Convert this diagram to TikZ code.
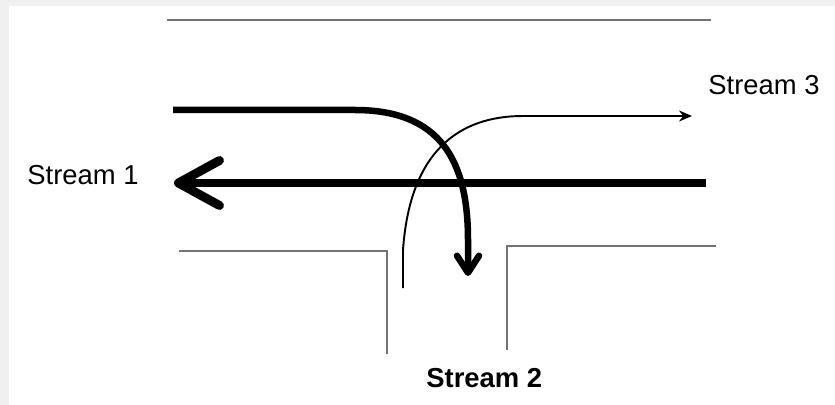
\documentclass[tikz,border=0pt]{standalone}
\usepackage{fontspec}
\setmainfont{Liberation Sans}
\usepackage{tikz}
\usetikzlibrary{arrows.meta,positioning}
\tikzset{%
	road/.style     = {draw=black!55, line width=0.85pt},
	streamlabel/.style = {inner sep=0pt, anchor=base west, font=\fontsize{15.6}{18}\selectfont},
	mainstream/.style  = {line width=5.1pt, -{Straight Barb[length=0.82cm,width=0.9cm,round]}},
	turnstream/.style  = {line width=3.7pt, -{Straight Barb[length=0.34cm,width=0.44cm,round]}},
	minorstream/.style = {line width=1.1pt, -{Stealth[length=0.26cm,width=0.22cm]}},
}

\begin{document}
\begin{tikzpicture}[x=0.02cm,y=-0.02cm]
		\useasboundingbox (0,0) rectangle (835,405);
		\fill[black!6] (0,0) rectangle (835,405);
		\fill[white] (9,6) rectangle (835,405);
		
		% road edges
		\draw[road] (167,20) -- (711,20);
		\draw[road] (179,251) -- (387,251) -- (387,354);
		\draw[road] (716,246) -- (507,246) -- (507,350);
		
		% stream end points
		\coordinate (s1start) at (706,183);
		\coordinate (s1end) at (174,183);
		\coordinate (s2start) at (173,110);
		\coordinate (s2end) at (468,276);
		\coordinate (s3start) at (403,288);
		\coordinate (s3end) at (692,116);
		
		\draw[mainstream] (s1start) -- (s1end);
		\draw[turnstream] (s2start) -- (355,110) ..controls (440,110) and (468,160) .. (468,240) -- (s2end);
		\draw[minorstream] (s3start) -- (403,250) ..controls (410,150) and (460,116) .. (523,116) -- (s3end);
		
		\node[streamlabel] (st1) at (27,185) {Stream 1};
		\node[streamlabel,font=\fontsize{15.6}{18}\selectfont\bfseries] (st2) at (426,387) {Stream 2};
		\node[streamlabel] (st3) at (708,95) {Stream 3};
	\end{tikzpicture}
\end{document}
